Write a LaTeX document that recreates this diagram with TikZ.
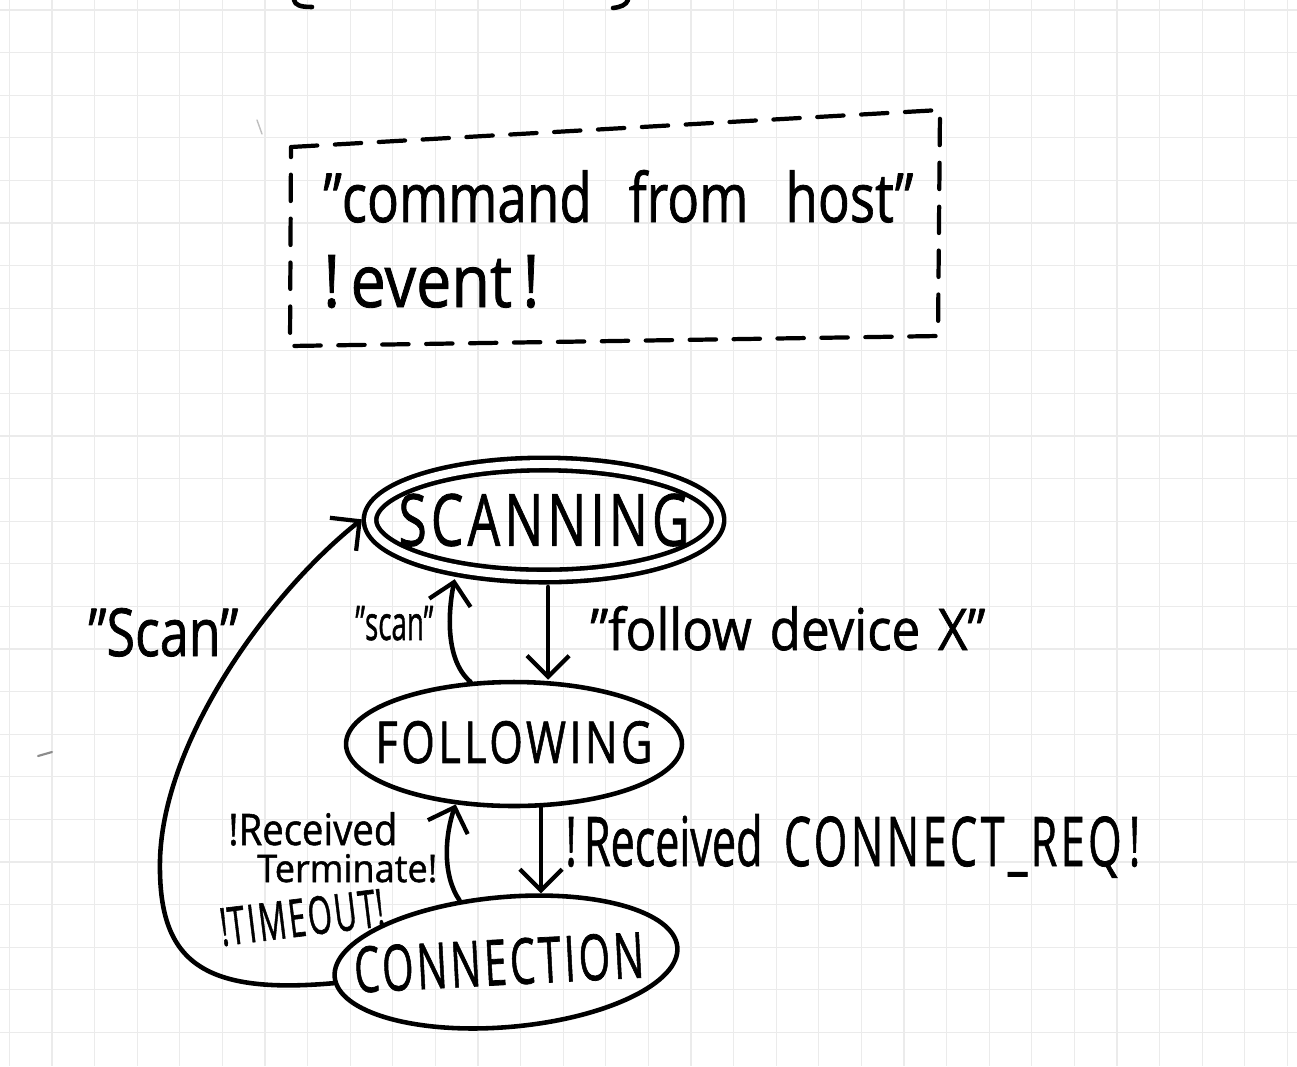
\documentclass[tikz,border=0pt]{standalone}
\usepackage{fontspec}
\setmainfont{Open Sans}[FakeBold=1.2]
\usepackage{graphicx}
\usetikzlibrary{shapes.geometric,arrows.meta,calc}
\newdimen\PX \PX=0.02cm
\newcommand\hwtext[3]{\resizebox{#1\PX}{#2\PX}{#3}}
\newcommand\capsp{\addfontfeatures{LetterSpace=8}}
\begin{document}
\begin{tikzpicture}[x=0.02cm,y=-0.02cm,
  ink/.style={line width=2.6pt, line cap=round, line join=round},
  state/.style={ellipse, draw, ink, inner sep=0pt},
  lbl/.style={inner sep=0pt, anchor=base west},
  arr/.style={ink, -{Straight Barb[length=12pt,width=24pt,line width=2.4pt]}},
  gridline/.style={black!8, line width=0.7pt}]
\useasboundingbox (0,0) rectangle (1297,1066);
\fill[white] (0,0) rectangle (1297,1066);
% paper grid
\foreach \k in {0,...,30} \draw[gridline] ({9.4+42.6*\k},0) -- ({9.4+42.6*\k},1066);
\foreach \k in {0,...,24} \draw[gridline] (0,{10+42.6*\k}) -- (1297,{10+42.6*\k});
% cut-off marks at the top edge and stray marks
\draw[ink] (294,0) .. controls (295,5) and (300,7) .. (312,7);
\draw[ink] (628,0) .. controls (626,5) and (621,7) .. (613,8);
\draw[black!45, line width=1.2pt, line cap=round] (38,756) -- (52,752);
\draw[black!25, line width=0.8pt, line cap=round] (257,120) -- (262,134);
% legend box
\coordinate (b1) at (291,147);
\coordinate (b2) at (940,110);
\coordinate (b3) at (938,336);
\coordinate (b4) at (290,346);
\draw[ink, line width=2.4pt, dash pattern=on 15pt off 10pt] (b1) -- (b2) -- (b3) -- (b4) -- cycle;
\node[lbl] (cmd) at (323,222) {\hwtext{590}{52}{"command\hspace{0.7em}from\hspace{0.7em}host"}};
\node[lbl] (evt) at (323,307) {\hwtext{216}{52}{!\,event\,!}};
% states
\node[state, double, double distance=4.5pt, minimum width=6.96cm, minimum height=2.24cm,
  label={center:\hwtext{291}{52}{\capsp SCANNING}}] (scan) at (544,520) {};
\node[state, minimum width=6.72cm, minimum height=2.48cm,
  label={[yshift=1pt]center:\hwtext{277}{42}{\capsp FOLLOWING}}] (foll) at (514,744) {};
\node[state, rotate=5, minimum width=6.88cm, minimum height=2.6cm,
  label={[rotate=3,xshift=-4pt]center:\hwtext{290}{46}{\capsp CONNECTION}}] (conn) at (506,962) {};
% transitions
\draw[arr, shorten <=5pt] (scan.-86) -- (scan.-86 |- foll.north);
\draw[arr, shorten >=5pt] (foll.125) .. controls (445,660) and (448,612) .. (scan.-150);
\draw[arr] (foll.-67) -- (foll.-67 |- conn.57);
\draw[arr] (conn.122) .. controls (442,875) and (445,835) .. (foll.-134);
\draw[arr, shorten >=5pt] (conn.182) .. controls (200,995) and (158,960) .. (160,860)
   .. controls (163,740) and (269,593) .. (scan.178);
% transition labels
\node[lbl] (lscan) at (355,640) {\hwtext{78}{34}{"scan"}};
\node[lbl] (lScan) at (88,656) {\hwtext{150}{48}{"Scan"}};
\node[lbl] (lfollow) at (590,650) {\hwtext{395}{44}{"follow\hspace{0.35em}device\hspace{0.35em}X"}};
\node[lbl] (lreq) at (565,866) {\hwtext{575}{52}{!\,Received\hspace{0.5em}{\capsp CONNECT\_REQ}\,!}};
\node[lbl] (lterm) at (228,845) {\hwtext{169}{33}{!Received}};
\node[lbl] (lterm2) at (257,882) {\hwtext{180}{28}{Terminate!}};
\node[lbl, rotate=7] (ltime) at (222,946) {\hwtext{165}{38}{!{\capsp TIMEOUT}!}};
\end{tikzpicture}
\end{document}
